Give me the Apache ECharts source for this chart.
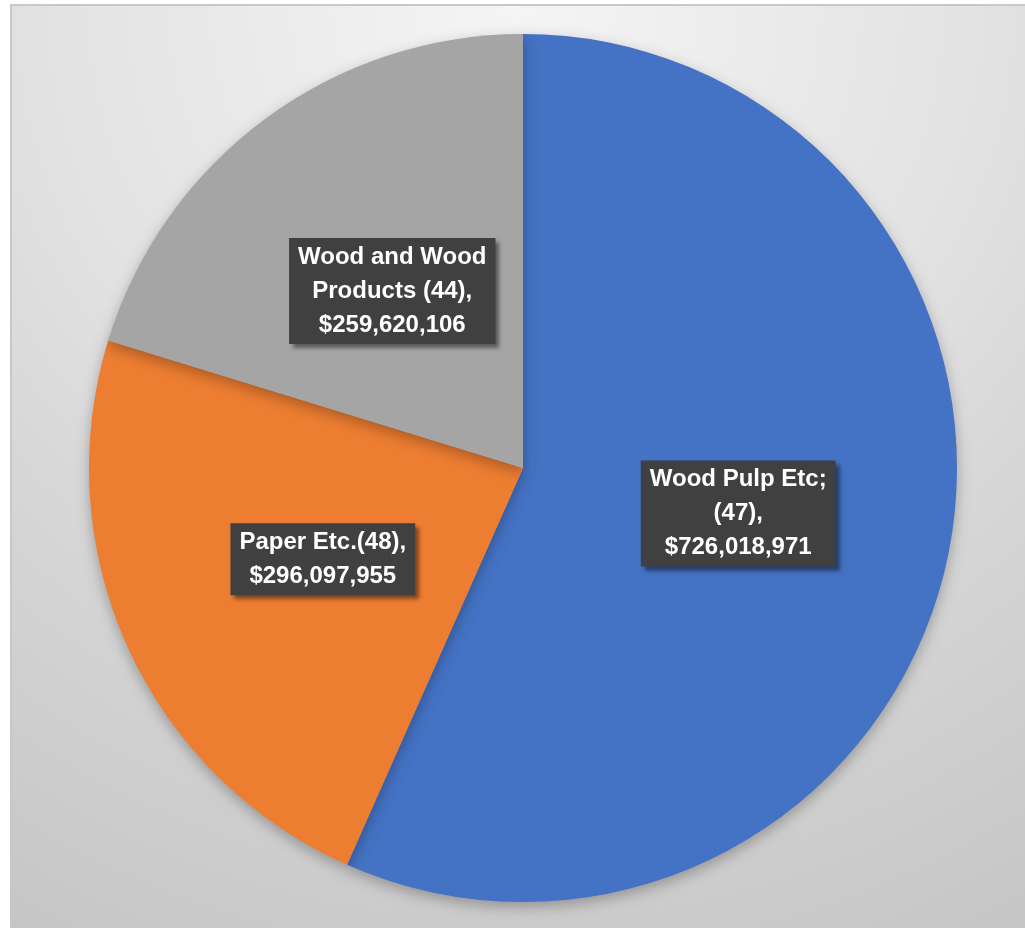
<!DOCTYPE html>
<html>
<head>
<meta charset="utf-8">
<script src="https://cdn.jsdelivr.net/npm/echarts@6/dist/echarts.min.js"></script>
<style>html,body{margin:0;padding:0;background:#fff;}#c{width:1025px;height:928px;}</style>
</head>
<body>
<div id="c"></div>
<script>
const categories = ['Wood Pulp Etc; (47)', 'Paper Etc.(48)', 'Wood and Wood Products (44)'];
const values = [726018971, 296097955, 259620106];
const labelLines = [
  ['Wood Pulp Etc;', '(47),'],
  ['Paper Etc.(48),'],
  ['Wood and Wood', 'Products (44),']
];
const colors = ['#4472c4', '#ed7d31', '#a5a5a5'];

function money(v) { return '$' + v.toLocaleString('en-US'); }

const chart = echarts.init(document.getElementById('c'), null, {renderer: 'canvas'});
const bg = new echarts.graphic.RadialGradient(515, 4, 1060, [
  {offset: 0, color: '#f5f5f5'},
  {offset: 0.45, color: '#e2e2e2'},
  {offset: 0.65, color: '#d6d6d6'},
  {offset: 1, color: '#c5c5c5'}
], true);

chart.setOption({
  backgroundColor: '#ffffff',
  animation: false,
  graphic: [{
    type: 'rect', z: -10, silent: true,
    shape: {x: 11, y: 5, width: 1040, height: 950},
    style: {fill: bg, stroke: '#c8c8c8', lineWidth: 2}
  }],
  series: [{
    type: 'pie',
    center: [523, 468],
    radius: [0, 434],
    startAngle: 90,
    clockwise: true,
    itemStyle: {
      shadowBlur: 14, shadowOffsetX: 0, shadowOffsetY: 5, shadowColor: 'rgba(0,0,0,0.28)'
    },
    label: {
      show: true,
      position: 'inside',
      color: '#ffffff',
      fontFamily: 'Liberation Sans',
      fontWeight: 'bold',
      fontSize: 24,
      lineHeight: 34,
      align: 'center',
      backgroundColor: '#404040',
      padding: [3, 9, 1, 9],
      shadowBlur: 4, shadowOffsetX: 4, shadowOffsetY: 4, shadowColor: 'rgba(0,0,0,0.45)',
      formatter: function (p) {
        return labelLines[p.dataIndex].concat([money(p.value)]).join('\n');
      }
    },
    labelLine: {show: false},
    emphasis: {disabled: true},
    data: categories.map((c, i) => ({name: c, value: values[i], itemStyle: {color: colors[i]}}))
  }]
});
</script>
</body>
</html>
